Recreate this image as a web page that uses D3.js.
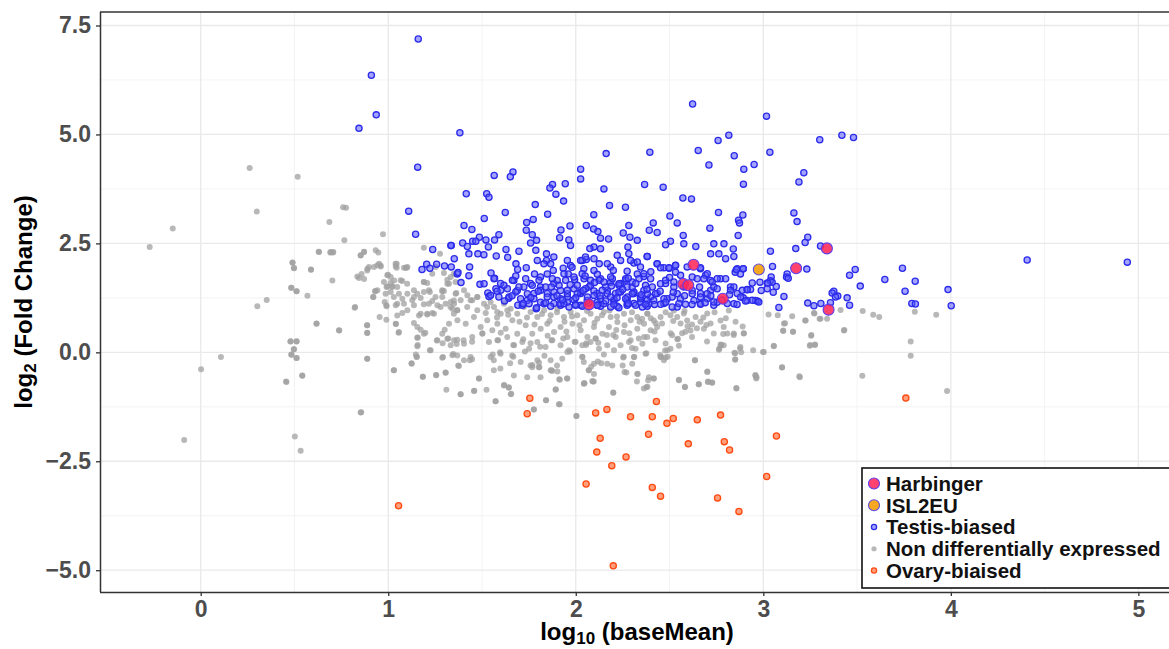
<!DOCTYPE html>
<html><head><meta charset="utf-8">
<script src="https://cdn.jsdelivr.net/npm/d3@7"></script>
<style>
html,body{margin:0;padding:0;background:#fff;}
svg{display:block;font-family:"Liberation Sans",Arial,Helvetica,sans-serif;}
</style></head>
<body><svg id="chart" width="1169" height="649"></svg>
<script>
// ---------- data (log10 baseMean, log2 fold change) ----------
const harbinger = [[2.628,2.01],[2.573,1.57],[2.60,1.54],[2.784,1.23],[2.07,1.10],[3.339,2.385],[3.175,1.93],[3.348,0.98]];
const isl2eu = [[2.976,1.90]];
const ovary = [[1.055,-3.52],[1.755,-1.055],[1.741,-1.41],[2.106,-1.39],[2.13,-1.97],[2.112,-2.29],[2.055,-3.02],
 [3.76,-1.05],[2.43,-1.13],[2.166,-1.31],[2.292,-1.48],[2.408,-1.48],[2.52,-1.52],[2.486,-1.63],[2.648,-1.55],[2.772,-1.44],
 [2.388,-1.88],[2.60,-2.10],[2.792,-2.05],[2.82,-2.24],[3.07,-1.92],[2.268,-2.40],[2.192,-2.60],[2.408,-3.10],[2.452,-3.30],
 [3.018,-2.85],[2.756,-3.34],[2.87,-3.65],[2.20,-4.90]];
const testis = [
 [0.91,6.36],[0.936,5.45],[0.844,5.14],[1.16,7.19],[2.623,5.70],[3.017,5.42],[1.382,5.04],[1.157,4.25],[2.759,4.86],[2.816,4.98],
 [2.653,4.63],[2.845,4.51],[2.71,4.30],[2.951,4.31],[2.896,4.20],[2.894,3.86],[2.162,4.56],[2.395,4.59],[2.026,4.20],[2.026,3.98],
 [1.565,4.06],[1.665,4.14],[1.651,4.03],[1.416,3.64],[1.525,3.64],[1.537,3.56],[1.109,3.24],[1.146,2.71],[1.876,3.85],[1.862,3.77],
 [1.944,3.87],[1.894,3.63],[1.935,3.47],[1.784,3.39],[2.15,3.75],[2.18,3.37],[2.265,3.33],[2.367,3.85],[2.466,3.79],[2.571,3.54],
 [2.617,3.52],[2.761,3.21],[2.891,3.15],[2.868,3.03],[2.873,2.97],[2.866,2.68],[3.163,3.20],[3.18,3.00],[3.19,3.91],[3.035,4.59],
 [3.216,4.12],[3.301,4.88],[3.419,4.98],[3.481,4.93],[4.407,2.12],[4.941,2.07],[3.985,1.44],[4.002,1.07],
 [2.502,3.13],[2.541,2.97],[2.573,2.68],[2.715,2.85],[2.096,3.16],[2.056,2.91],[2.095,2.83],[2.118,2.77],[1.969,2.90],[1.921,2.81],
 [1.85,3.17],[1.773,3.05],[1.738,2.98],[1.736,2.80],[1.624,3.21],[1.512,3.07],[1.404,2.91],[1.446,2.82],[1.59,2.70],[1.567,2.58],
 [1.486,2.64],[1.521,2.58],[1.336,2.45],[1.397,2.51],[1.422,2.43],[1.45,2.55],[1.467,2.55],[1.237,2.36],[1.18,1.90],[1.205,2.02],
 [1.222,1.93],[1.258,2.02],[1.30,1.98],[1.336,1.96],[1.352,2.15],[1.388,1.60],[1.368,1.80],[1.43,1.76],[1.434,1.96],[1.43,2.26],
 [1.478,2.26],[1.51,2.24],[1.534,2.42],[1.576,2.21],[1.628,2.36],[1.637,2.18],[1.697,2.32],[1.681,2.03],[1.69,1.90],[1.736,1.94],
 [1.489,1.56],[1.531,1.36],[1.537,1.28],[1.59,1.27],[1.642,1.24],[1.567,1.70],[1.548,1.82],[1.635,1.46],[1.691,1.08],[1.789,1.00],
 [1.883,1.12],[1.919,1.08],[2.026,1.08],[2.132,1.06],[2.221,1.06],[2.31,1.12],[2.381,1.06],[2.47,1.12],[2.541,1.04],[2.665,1.12],
 [2.736,1.08],[2.808,1.12],[2.914,1.19],[2.968,1.18],[3.083,1.03],[3.11,1.28],[3.069,1.51],[3.049,1.97],[3.038,2.32],[3.173,2.38],
 [3.021,1.59],[2.982,1.61],[3.127,1.80],
 [2.763,2.26],[2.719,2.26],[2.736,2.49],[2.79,2.49],[2.84,2.37],[2.843,2.20],[2.799,2.15],[2.64,2.43],[2.576,2.49],[2.505,2.55],
 [2.479,2.47],[2.434,2.75],[2.392,2.80],[2.413,2.97],[2.328,2.57],[2.289,2.64],[2.278,2.42],[2.253,2.74],[2.283,2.91],[2.175,2.60],
 [2.132,2.62],[2.097,2.42],[2.075,2.38],[2.056,2.13],[2.035,2.11],[1.972,2.45],[1.963,2.58],[1.914,2.63],[1.883,2.19],[1.844,2.26],
 [1.844,2.11],[1.866,2.03],[1.791,2.57],[1.759,2.51],[1.768,2.70],[1.787,2.34],[1.795,2.11],[1.83,2.03],[1.933,1.93],[1.96,1.80],
 [1.994,1.67],[2.043,1.92],[2.097,1.88],[2.132,1.69],[2.125,2.03],[2.186,1.96],[2.186,1.61],[2.239,1.58],[2.274,1.86],[2.328,1.80],
 [2.363,1.74],[2.31,2.05],[2.381,2.20],[2.434,2.03],[2.47,1.94],[2.532,2.00],[2.498,1.93],[2.532,1.84],[2.594,1.96],[2.665,1.92],
 [2.692,1.77],[2.719,1.65],[2.772,1.69],[2.825,1.50],[2.861,1.92],[2.878,1.80],[2.85,1.84],[2.893,1.92],[2.914,1.44],[2.932,1.44],
 [2.861,1.35],[2.754,1.15],[2.719,1.42],[2.665,1.35],[2.621,1.42],[2.576,1.50],[2.523,1.50],[2.479,1.58],[2.434,1.35],[2.399,1.27],
 [2.363,1.42],[2.31,1.35],[2.274,1.50],[2.212,1.35],[2.168,1.42],[2.114,1.35],[2.07,1.50],[2.026,1.35],[1.99,1.46],[1.955,1.27],
 [1.919,1.42],[1.883,1.58],[1.848,1.35],[1.812,1.50],[1.777,1.35],[1.741,1.19],[1.759,1.58],[1.812,1.73],[1.848,1.80],[1.901,1.65],
 [1.723,1.50],[1.688,1.42],[1.67,1.65],[1.599,1.58],[1.574,1.46],[2.203,1.19],[2.274,1.19],[2.345,1.15],[2.416,1.19],[2.488,1.23],
 [2.558,1.23],[2.63,1.19],[2.701,1.23],[2.114,1.15],[1.955,1.15],[1.812,1.15],[2.061,1.19],[1.883,1.27],
 [3.237,2.64],[3.223,2.52],[3.305,2.44],[3.232,1.91],[3.124,1.73],[3.133,1.70],[3.042,1.73],[3.038,1.64],[3.047,1.61],[3.024,1.58],
 [3.021,1.46],[3.053,1.38],[2.989,1.42],[2.893,1.25],[2.958,1.19],[3.237,1.13],[3.27,1.07],[3.307,1.12],[3.358,1.14],[3.376,1.40],
 [3.367,1.36],[3.397,1.29],[3.385,1.27],[3.447,1.25],[3.46,1.08],[3.49,1.90],[3.46,1.77],[3.517,1.52],[3.648,1.67],[3.742,1.93],
 [3.81,1.63],[3.756,1.40],[3.792,1.12],[3.811,1.11],[1.334,2.45],[1.372,1.83],
 [1.715,1.08],[1.751,1.117],[1.791,1.025],[1.831,1.117],[1.866,1.055],[1.919,1.117],[1.964,1.04],[1.999,1.10],[2.035,1.055],
 [2.115,1.08],[2.15,1.117],[2.186,1.04],[2.23,1.025],[2.275,1.117],[2.319,1.08],[2.355,1.04],[2.39,1.117],
 [1.546,1.308],[1.60,1.422],[1.644,1.27],[1.68,1.384],[1.706,1.231],[1.742,1.346],[1.777,1.231],[1.813,1.422],[1.848,1.27],
 [1.884,1.384],[1.919,1.231],[1.955,1.346],[1.99,1.208],[2.026,1.384],[2.062,1.27],[2.097,1.407],[2.133,1.231],[2.168,1.346],
 [2.204,1.208],[2.239,1.384],[2.275,1.27],[2.31,1.384],[2.346,1.231],[2.382,1.346],
 [1.511,1.575],[1.564,1.69],[1.617,1.537],[1.662,1.652],[1.697,1.499],[1.733,1.69],[1.768,1.537],[1.804,1.652],[1.839,1.499],
 [1.875,1.69],[1.911,1.537],[1.946,1.652],[2.008,1.537],[2.044,1.69],[2.079,1.537],[2.124,1.652],[2.159,1.499],[2.195,1.69],
 [2.23,1.537],[2.266,1.652],[2.301,1.499],[2.337,1.69],[2.372,1.537],
 [1.955,2.11],[1.972,1.995],[2.026,2.11],[2.052,2.187],[2.097,2.148],[2.132,2.378],[2.168,2.034],[2.221,2.225],[2.239,2.11],
 [2.283,2.263],[2.292,2.11],[2.328,2.072],[2.345,1.957],[2.381,2.202],[2.434,2.034],[2.452,1.942],[2.497,1.942],[2.532,1.995],
 [2.665,1.942],[2.701,1.804],[2.754,1.69],[2.799,1.69],[2.856,1.896],[2.893,1.919],
 [1.937,1.804],[1.99,1.728],[2.034,1.804],[2.079,1.652],[2.115,1.789],[2.15,1.613],[2.186,1.728],[2.23,1.575],[2.266,1.69],
 [2.301,1.613],[2.363,1.804],[2.399,1.69],[2.408,1.499],[2.452,1.575],[2.479,1.652],[2.523,1.613],[2.559,1.766],[2.621,1.728],
 [2.648,1.69],[2.683,1.69],[2.727,1.613],[2.736,1.499],[2.843,1.499],[2.888,1.422],[2.914,1.437],[2.941,1.59],
 [1.955,1.422],[2.008,1.346],[2.052,1.46],[2.097,1.307],[2.141,1.422],[2.186,1.269],[2.23,1.384],[2.266,1.231],[2.301,1.346],
 [2.345,1.269],[2.381,1.193],[2.425,1.346],[2.47,1.231],[2.514,1.269],[2.541,1.346],[2.621,1.346],[2.665,1.269],[2.701,1.346],
 [2.754,1.46],[2.825,1.422],[2.879,1.269],[2.941,1.193],[2.976,1.155],
 [1.937,1.116],[1.999,1.078],[2.115,1.078],[2.203,1.101],[2.274,1.078],[2.372,1.101],[2.452,1.101],[2.514,1.04],[2.585,1.101],
 [2.665,1.101],[2.736,1.155],[2.843,1.116],[2.905,1.178],
 [1.72,1.12],[1.76,1.26],[1.80,1.40],[1.84,1.14],[1.87,1.50],[1.90,1.30],[1.93,1.20],[1.97,1.55],[2.00,1.25],[2.04,1.42],
 [2.07,1.13],[2.10,1.60],[2.13,1.30],[2.16,1.18],[2.19,1.52],[2.22,1.25],[2.25,1.44],[2.28,1.12],[2.32,1.58],[2.35,1.32],
 [2.38,1.45],[2.42,1.10],[2.45,1.40],[2.48,1.15],[2.52,1.38],[2.55,1.12],[2.58,1.30],[2.62,1.10],[2.66,1.50],[2.69,1.14],
 [2.72,1.30],[2.78,1.20],[2.82,1.32],[2.86,1.10],[1.78,1.80],[1.88,1.88],[1.98,1.95],[2.05,1.75],[2.20,1.88],[2.28,1.70],
 [2.40,1.85],[2.50,1.72],[1.66,1.30],[1.62,1.18],[1.58,1.40],[1.68,1.75]
];
const nonDE = [
 [0.261,4.23],[0.517,4.03],[0.299,3.23],[-0.149,2.84],[-0.272,2.42],[0.759,3.33],[0.775,3.32],[0.686,2.99],[0.766,2.57],[0.972,2.71],
 [0.629,2.31],[0.691,2.29],[0.705,2.29],[0.871,2.31],[0.853,2.22],[0.933,2.34],[0.947,2.29],[0.49,2.06],[0.497,1.93],[0.588,1.90],
 [0.702,1.65],[0.483,1.48],[0.51,1.40],[0.569,1.30],[0.302,1.06],[0.352,1.20],[0.835,1.74],[0.858,1.80],[0.871,1.68],[0.889,1.92],
 [0.897,1.96],[0.942,2.00],[0.96,1.97],[0.823,1.04],[0.921,1.27],[0.933,1.41],[0.99,1.08],[0.954,0.81],[0.617,0.66],[0.887,0.62],
 [0.995,1.77],[0.995,1.51],[1.04,1.97],
 [-0.088,-2.01],[0.002,-0.39],[0.108,-0.11],[0.455,-0.67],[0.478,0.25],[0.51,0.25],[0.496,0.07],[0.484,-0.05],[0.51,-0.13],[0.541,-0.53],
 [0.502,-1.93],[0.533,-2.26],[0.853,-1.38],[0.888,-0.15],[0.888,0.45],[0.739,0.50],[1.029,-0.41],[1.055,0.45],[1.041,0.65],
 [1.124,-0.25],[1.184,-0.56],[1.255,-0.52],[1.31,-0.86],[1.306,-0.46],[1.386,-0.96],[1.459,-0.88],[1.484,-0.60],[1.524,-0.86],
 [1.573,-1.12],[1.618,-0.75],[1.643,-0.80],[1.653,-0.96],[1.776,-1.31],[1.841,-1.10],[1.914,-1.19],[1.894,-0.85],[2.004,-1.46],
 [2.045,-0.71],[2.092,-0.67],[2.069,-0.41],[1.953,-0.60],[1.912,-0.62],[1.871,-0.41],[1.902,-0.44],[1.769,-0.29],[1.806,-0.34],
 [1.804,-0.24],[1.598,-0.37],[1.435,-0.18],[1.447,-0.16],[1.373,-0.30],[1.347,-0.04],[1.292,-0.11],[1.222,0.05],[1.153,-0.10],
 [1.147,-0.05],[1.557,-0.05],[1.596,0.0],[1.667,-0.10],[1.729,0.02],[1.833,-0.08],[1.969,0.02],[2.035,-0.10],[1.157,0.17],
 [1.157,0.34],[1.198,0.45],[1.259,0.27],[1.29,0.21],[1.32,0.32],[1.365,0.19],[1.402,0.28],[1.447,0.24],[1.502,0.44],[1.586,0.28],
 [1.667,0.17],[1.759,0.21],[1.81,0.13],[1.871,0.28],[1.933,0.32],[1.994,0.24],[2.055,0.17],[2.106,0.32],
 [3.98,-0.89],[3.786,-0.08],[3.786,0.25],[3.528,-0.54],[3.432,0.51],[3.192,-0.55],[3.10,-0.34],[3.056,0.15],[2.998,0.01],[2.946,0.05],
 [2.958,-0.52],[2.964,-0.57],[2.856,-0.82],[2.85,-0.16],[2.85,-0.02],[2.876,0.09],[2.882,0.0],[2.702,-0.44],[2.726,-0.70],[2.706,-0.67],
 [2.636,-0.18],[2.656,-0.73],[2.582,-0.79],[2.55,-0.64],[2.476,0.04],[2.49,-0.10],[2.456,-0.11],[2.45,-0.06],[2.386,-0.64],[2.382,-0.79],
 [2.416,-0.60],[2.326,-0.67],[2.33,-0.50],[2.27,-0.46],[2.20,-0.92],[2.376,-0.02],[2.312,-0.11],[2.256,-0.10],[2.096,-0.67],[2.046,-0.71],
 [2.118,-0.21],[2.082,-0.33],[2.136,-0.25],[3.256,0.40],[3.25,0.17],[3.276,0.18],[3.106,0.50],[3.158,0.47],[3.116,0.67],[3.226,0.73],
 [2.766,0.09],[2.776,0.17],[2.896,0.44],[2.89,0.59],[2.786,0.42],[2.842,0.40],[2.542,0.30],[2.506,0.44],[2.426,0.67],[2.596,0.60],
 [2.646,0.55],[2.696,0.63],[2.286,0.44],[2.336,0.32],[2.216,0.51],[2.166,0.40],[2.106,0.32],[2.056,0.21],
 [3.53,0.95],[3.586,0.86],[3.618,0.81],[3.808,0.93],[3.922,0.86],[3.412,0.97],[3.27,0.90],[3.30,0.77],[3.34,0.77],[3.223,0.73],
 [3.154,0.83],[3.43,0.50],[3.028,0.87],[3.077,0.85],[3.273,0.89],
 [3.11,0.66],[3.159,0.47],[3.106,0.49],[3.255,0.38],[3.248,0.15],[3.275,0.17],[3.305,0.77],[3.056,0.14],[3.003,0.01],[3.10,-0.35],
 [3.195,-0.57],[2.958,-0.53],[2.962,-0.60],[2.857,-0.83],[2.878,0.12],[2.846,-0.01],[2.85,-0.17],[2.763,0.06],[2.772,0.18],[2.789,0.16],
 [2.701,-0.45],[2.728,-0.69],[2.704,-0.68],[2.656,-0.73],[2.635,-0.18],[2.582,-0.80],[2.55,-0.63],[2.39,-0.57],[2.416,-0.60],[2.377,-0.80],
 [2.372,-0.03],[2.452,-0.11],[2.488,0.05],[2.505,0.08],[2.47,-0.18],[2.479,-0.12],
 [2.354,0.77],[2.381,0.89],[2.416,0.73],[2.434,0.58],[2.452,0.81],[2.479,0.92],[2.505,0.85],[2.523,0.96],[2.541,0.81],[2.559,0.66],
 [2.576,0.89],[2.594,0.73],[2.612,0.50],[2.639,0.81],[2.665,0.70],[2.683,0.54],[2.701,0.89],[2.719,0.66],[2.736,0.43],[2.772,0.73],
 [2.789,0.58],[2.808,0.43],[2.816,0.96],[2.843,0.43],[2.852,0.70],[2.896,0.43],[2.381,0.35],[2.425,0.28],[2.479,0.20],[2.514,0.39],
 [2.544,0.31],[2.567,0.44],[2.585,0.47],
 [1.386,-0.96],[1.457,-0.89],[1.484,-0.60],[1.572,-1.12],[1.617,-0.76],[1.643,-0.81],[1.656,-0.95],[1.777,-1.31],[1.842,-1.10],
 [1.91,-1.19],[2.003,-1.46],[1.892,-0.86],[1.874,-0.43],[1.915,-0.63],[1.955,-0.60],[2.043,-0.72],[2.097,-0.50],[2.088,-0.66],
 [2.07,-0.41],[2.20,-0.93],[2.26,-0.45],[2.328,-0.49],[2.363,-0.83],[2.301,-0.26],[2.31,-0.11],[2.253,-0.12],[2.168,-0.26],
 [2.195,-0.30],[2.097,-0.26],[2.035,-0.11],[2.043,-0.22],[1.404,-0.18],[1.439,-0.11],[1.368,-0.07],[1.546,-0.11],[1.563,-0.18],
 [1.599,-0.03],[1.661,-0.07],[1.706,-0.22],[1.759,-0.30],[1.795,-0.18],[1.803,-0.34],[1.866,-0.18],[1.955,0.01],[1.928,-0.15],
 [1.67,-0.53],[1.563,-0.41],[1.768,-0.34],[1.866,-0.41],[1.741,-0.57],[1.812,-0.57],
 [1.351,1.117],[1.386,1.193],[1.422,1.308],[1.448,1.193],[1.475,1.269],[1.511,1.117],[1.546,1.155],[1.564,1.040],[1.600,0.887],
 [1.617,1.117],[1.653,1.002],[1.688,0.887],[1.724,1.040],[1.759,0.925],[1.795,0.811],[1.831,0.964],[1.866,0.849],[1.902,1.002],
 [1.937,0.811],[1.973,0.925],[2.008,0.849],[2.044,0.734],[2.079,0.887],[2.115,0.772],[2.150,0.925],[2.186,0.811],[2.222,0.696],
 [2.257,0.887],[2.293,0.734],[2.328,0.811],[2.364,0.658],[2.382,0.887],[1.369,0.734],[1.413,0.658],[1.457,0.811],[1.493,0.581],
 [1.528,0.734],[1.555,0.505],[1.582,0.658],[1.626,0.543],[1.662,0.734],[1.688,0.428],[1.733,0.620],[1.768,0.428],[1.813,0.543],
 [1.848,0.658],[1.884,0.467],[1.919,0.581],[1.955,0.352],[1.982,0.658],[2.026,0.505],[2.062,0.352],[2.097,0.581],[2.142,0.428],
 [2.177,0.581],[2.213,0.352],[2.257,0.467],[2.293,0.276],[2.328,0.543],[2.364,0.352],[2.399,0.505],[1.351,0.276],[1.404,0.199],
 [1.448,0.352],[1.502,0.428],[1.537,0.237],[1.582,0.276],[1.635,0.352],[1.671,0.161],[1.715,0.237],[1.751,0.085],[1.795,0.237],
 [1.839,0.123],[1.875,0.276],[1.919,0.161],[1.964,0.046],[1.999,0.237],[2.035,0.161],[2.079,0.237],[2.124,0.085],[2.168,0.161],
 [2.204,0.046],[2.239,0.161],[2.284,0.237],[2.319,0.085],[2.355,0.199],
 [0.631,2.30],[0.693,2.30],[0.707,2.30],[0.853,2.225],[0.871,2.30],[0.489,2.056],[0.498,1.934],[0.588,1.896],[0.483,1.483],
 [0.512,1.399],[0.618,0.657],[0.737,0.505],[0.821,1.025],[0.888,0.619],[0.888,0.443],[0.48,0.252],[0.512,0.252],[0.498,0.069],
 [0.483,-0.054],[0.512,-0.13],[0.542,-0.535],[0.457,-0.68],[0.888,-0.145],[0.856,-1.376],[0.844,1.705],[0.888,1.88],[0.951,2.03],
 [0.929,1.399],[0.919,1.269],[0.99,0.749],[0.981,1.154],[0.991,1.055],[0.999,1.781],[1.013,1.59],[1.031,1.651],[1.022,1.514],
 [0.991,1.498],[1.013,1.384],[1.048,1.498],[1.075,1.636],[1.045,2.034],[1.093,1.942],[1.102,1.957],[1.057,1.345],[1.075,1.231],
 [1.048,1.116],[1.04,1.078],[1.102,1.345],[1.128,1.193],[1.137,1.269],[1.19,2.40],[1.276,2.263],
 [1.155,1.345],[1.19,1.384],[1.222,1.384],[1.173,1.246],[1.235,1.177],[1.19,1.101],[1.217,1.116],[1.288,1.399],[1.288,1.269],
 [1.333,1.154],[1.35,1.192],[1.363,1.361],[1.342,1.001],[1.306,1.116],[1.262,1.078],[1.235,0.902],[1.208,0.871],[1.164,0.848],
 [1.102,0.963],[1.075,0.902],[1.048,0.848],[1.04,0.657],[1.057,0.466],[1.137,0.673],[1.155,0.581],[1.173,0.52],[1.19,0.428],
 [1.155,0.336],[1.155,0.137],[1.226,0.046],[1.262,0.275],[1.288,0.428],[1.301,0.52],[1.324,0.657],[1.35,0.887],[1.368,0.963],
 [1.315,0.313],[1.333,0.16],[1.368,0.29],[1.288,-0.122],[1.342,-0.069],[1.377,-0.313],[1.256,-0.527],[1.306,-0.466],[1.185,-0.558],
 [1.151,-0.107],[1.125,-0.26],[1.031,-0.413],[1.235,1.804],[1.253,1.957],[1.19,1.613],[1.208,1.59],[1.297,1.819],[1.315,1.667],
 [1.333,1.728],[1.35,1.804],[1.359,1.613],[1.297,1.407],[1.315,1.575],
 [0.924,1.957],[0.959,1.995],[1.039,2.034],[1.045,1.942],[1.084,1.942],[1.098,1.942],[0.977,1.613],[1.013,1.728],[1.021,1.499],
 [1.066,1.652],[0.942,1.422],[0.986,1.346],[1.03,1.269],[1.101,1.575],[1.137,1.422],[1.19,1.613],[1.217,1.422],[1.252,1.269],
 [1.288,1.422],[1.324,1.575],[1.359,1.346],[1.404,1.422],[1.439,1.193],[1.475,1.269],[1.173,0.887],[1.208,0.887],[1.244,0.887],
 [1.084,1.116],[1.137,1.078],[1.279,1.04],[1.332,1.04],[1.368,0.963],[1.421,1.04],[1.475,0.963],[1.528,1.04],[1.581,0.925],[1.635,0.963],
 [1.52,0.90],[1.58,0.80],[1.64,0.86],[1.70,0.70],[1.74,0.80],[1.78,0.64],[1.82,0.88],[1.86,0.72],[1.90,0.92],[1.94,0.70],
 [1.98,0.82],[2.02,0.62],[2.06,0.95],[2.10,0.68],[2.14,0.85],[2.18,0.96],[2.22,0.82],[2.26,0.62],[2.30,0.92],[2.34,0.70],
 [2.40,0.78],[2.46,0.66],[2.52,0.72],[2.58,0.95],[2.62,0.64],[2.68,0.80],[2.74,0.92],[2.80,0.78],[1.60,0.45],[1.72,0.30],
 [1.85,0.38],[1.95,0.48],[2.12,0.22],[2.20,0.40],[2.30,0.10],[2.42,0.48],[2.55,0.15],[2.62,0.35],[2.70,0.25],[1.65,-0.25],
 [1.90,-0.30],[2.15,-0.05],[2.25,-0.30]
];
const xTicks = [0, 1, 2, 3, 4, 5];
const yTicks = [-5, -2.5, 0, 2.5, 5, 7.5];
const xMinor = [0.5, 1.5, 2.5, 3.5, 4.5];
const yMinor = [-3.75, -1.25, 1.25, 3.75, 6.25];
const legendItems = [
 {key:"harbinger", label:"Harbinger"},
 {key:"isl2eu", label:"ISL2EU"},
 {key:"testis", label:"Testis-biased"},
 {key:"nonde", label:"Non differentially expressed"},
 {key:"ovary", label:"Ovary-biaised"}
];

// ---------- layout & styles ----------
const W = 1169, H = 649;
const P = {left:100, right:1174, top:12, bottom:592};
const styles = {
 harbinger:{r:5.5, fill:"rgba(255,40,90,0.88)", stroke:"#5b3cf0", sw:1.1},
 isl2eu:{r:5.5, fill:"#f7a823", stroke:"#5b4de0", sw:1.1},
 testis:{r:3.1, fill:"rgba(90,90,255,0.55)", stroke:"#2b2bea", sw:1.3},
 nonde:{r:3.0, fill:"rgba(160,160,160,0.75)", stroke:"none", sw:0},
 ovary:{r:3.1, fill:"rgba(255,120,70,0.7)", stroke:"#ff4a12", sw:1.3}
};
const font = '"Liberation Sans", Arial, Helvetica, sans-serif';

const svg = d3.select("#chart");
svg.append("rect").attr("width",W).attr("height",H).attr("fill","#fff");

const x = d3.scaleLinear().domain([-0.537, 5.19]).range([P.left, P.right]);
const y = d3.scaleLinear().domain([-5.5, 7.81]).range([P.bottom, P.top]);

// grid
const grid = svg.append("g");
grid.selectAll(".xmin").data(xMinor).join("line")
 .attr("x1",d=>x(d)).attr("x2",d=>x(d)).attr("y1",P.top).attr("y2",P.bottom)
 .attr("stroke","#f0f0f0").attr("stroke-width",0.8);
grid.selectAll(".ymin").data(yMinor).join("line")
 .attr("y1",d=>y(d)).attr("y2",d=>y(d)).attr("x1",P.left).attr("x2",P.right)
 .attr("stroke","#f0f0f0").attr("stroke-width",0.8);
grid.selectAll(".xmaj").data(xTicks).join("line")
 .attr("x1",d=>x(d)).attr("x2",d=>x(d)).attr("y1",P.top).attr("y2",P.bottom)
 .attr("stroke","#e9e9e9").attr("stroke-width",1.3);
grid.selectAll(".ymaj").data(yTicks).join("line")
 .attr("y1",d=>y(d)).attr("y2",d=>y(d)).attr("x1",P.left).attr("x2",P.right)
 .attr("stroke","#e9e9e9").attr("stroke-width",1.3);

// points
function drawPts(data, st){
 svg.append("g").selectAll("circle").data(data).join("circle")
  .attr("cx",d=>x(d[0])).attr("cy",d=>y(d[1])).attr("r",st.r)
  .attr("fill",st.fill).attr("stroke",st.stroke).attr("stroke-width",st.sw);
}
drawPts(nonDE, styles.nonde);
drawPts(testis, styles.testis);
drawPts(ovary, styles.ovary);
drawPts(harbinger, styles.harbinger);
drawPts(isl2eu, styles.isl2eu);

// panel border
svg.append("line").attr("x1",P.left).attr("x2",P.right).attr("y1",P.top).attr("y2",P.top)
 .attr("stroke","#333").attr("stroke-width",1.5);

// legend
const lg = svg.append("g");
lg.append("rect").attr("x",862).attr("y",468).attr("width",320).attr("height",120)
 .attr("fill","#fff").attr("stroke","#111").attr("stroke-width",1.6);
const ly = d3.scalePoint().domain(legendItems.map(d=>d.key)).range([483.5, 570.5]);
const keyR = {harbinger:5.5, isl2eu:5.5, testis:2.6, nonde:2.6, ovary:2.6};
legendItems.forEach(it=>{
 const st = styles[it.key];
 lg.append("circle").attr("cx",874).attr("cy",ly(it.key)).attr("r",keyR[it.key])
  .attr("fill",st.fill).attr("stroke",st.stroke==="none"?"none":st.stroke).attr("stroke-width",st.sw);
 lg.append("text").attr("x",886).attr("y",ly(it.key)).attr("dy","0.36em").text(it.label)
  .style("font-family",font).style("font-weight","bold").style("font-size","20.5px").attr("fill","#111");
});

// axes
const fmt = d3.format(".1f");
const gx = svg.append("g").attr("transform",`translate(0,${P.bottom})`)
 .call(d3.axisBottom(x).tickValues(xTicks).tickFormat(d3.format("d")).tickSize(4).tickPadding(5));
const gy = svg.append("g").attr("transform",`translate(${P.left},0)`)
 .call(d3.axisLeft(y).tickValues(yTicks).tickFormat(fmt).tickSize(4).tickPadding(5));
[gx,gy].forEach(g=>{
 g.select(".domain").attr("stroke","#333").attr("stroke-width",1.5);
 g.selectAll(".tick line").attr("stroke","#333").attr("stroke-width",1.3);
 g.selectAll(".tick text").attr("fill","#4d4d4d").style("font-size","23px")
  .style("font-weight","bold").style("font-family",font);
});
gx.select(".domain").attr("d",`M${P.left},0.5H${P.right}`);
gy.select(".domain").attr("d",`M0.5,${P.top}V${P.bottom}`);

// axis titles
const xt = svg.append("text").attr("x",(P.left+P.right)/2).attr("y",640).attr("text-anchor","middle")
 .style("font-family",font).style("font-weight","bold").style("font-size","24px").attr("fill","#000");
xt.append("tspan").text("log");
xt.append("tspan").text("10").style("font-size","17px").attr("dy","4");
xt.append("tspan").text(" (baseMean)").attr("dy","-4");

const yt = svg.append("text").attr("transform",`translate(32,${(P.top+P.bottom)/2}) rotate(-90)`)
 .attr("text-anchor","middle")
 .style("font-family",font).style("font-weight","bold").style("font-size","24px").attr("fill","#000");
yt.append("tspan").text("log");
yt.append("tspan").text("2").style("font-size","17px").attr("dy","4");
yt.append("tspan").text(" (Fold Change)").attr("dy","-4");
</script></body></html>
